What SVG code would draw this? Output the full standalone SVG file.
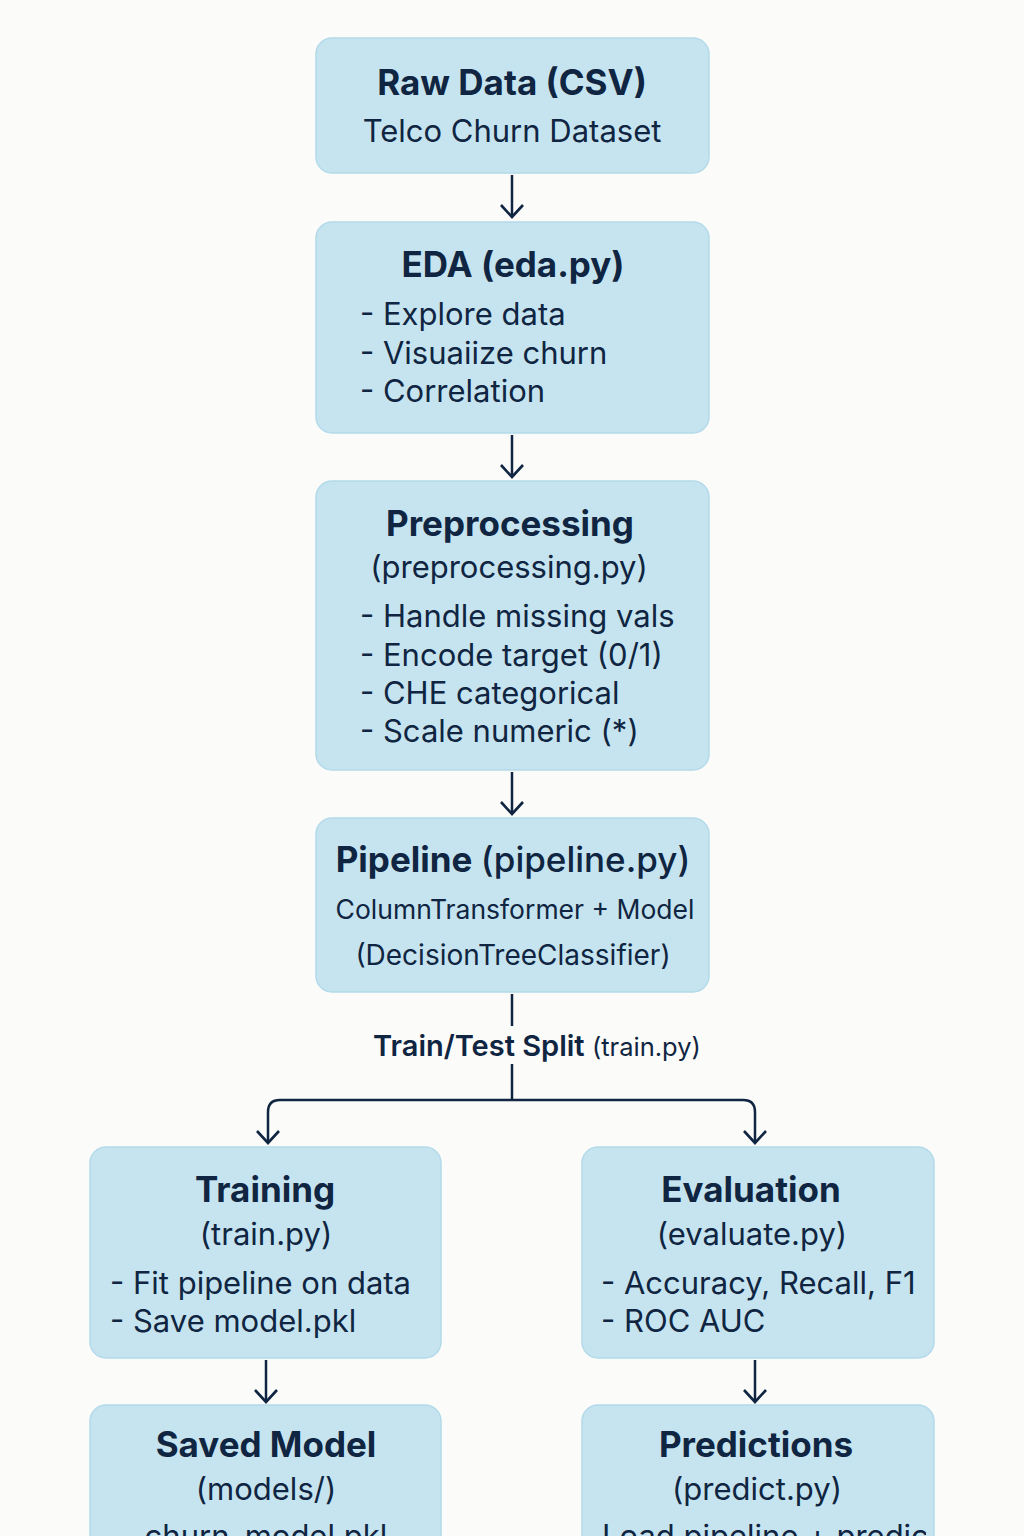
<svg xmlns="http://www.w3.org/2000/svg" width="1024" height="1536" viewBox="0 0 1024 1536">
<defs>
<style>
.box{fill:#c6e4ef;stroke:#b3daea;stroke-width:1.5}
text{font-family:Inter,"Open Sans","Liberation Sans",sans-serif;fill:#0f2541}
.t{font-size:35px;font-weight:700;text-anchor:middle}
.s{font-size:31px;text-anchor:middle}
.b{font-size:31px}
.c{fill:none;stroke:#0f2541;stroke-width:2.5}
</style>
<marker id="ah" viewBox="0 0 24 24" refX="22" refY="12" markerWidth="24" markerHeight="24" markerUnits="userSpaceOnUse" orient="auto-start-reverse">
<path d="M10,1 L22,12 L10,23" fill="none" stroke="#0f2541" stroke-width="2.6"/>
</marker>
<clipPath id="cpL"><rect x="90" y="1405" width="351" height="140"/></clipPath>
<clipPath id="cpR"><rect x="582" y="1405" width="344" height="140"/></clipPath>
</defs>
<rect width="1024" height="1536" fill="#fbfbf9"/>
<g id="connectors">
<path class="c" d="M512,175 V217" marker-end="url(#ah)"/>
<path class="c" d="M512,435 V477" marker-end="url(#ah)"/>
<path class="c" d="M512,772 V814" marker-end="url(#ah)"/>
<path class="c" d="M512,994 V1026"/>
<path class="c" d="M512,1064 V1100"/>
<path class="c" d="M268,1143 V1112 Q268,1100 280,1100 H743 Q755,1100 755,1112 V1143" marker-end="url(#ah)" marker-start="url(#ah)"/>
<path class="c" d="M266,1360 V1402" marker-end="url(#ah)"/>
<path class="c" d="M755,1360 V1402" marker-end="url(#ah)"/>
<text x="373" y="1056" style="font-size:29px;font-weight:600">Train/Test Split <tspan style="font-size:25.5px;font-weight:400">(train.py)</tspan></text>
</g>
<g id="raw">
<rect class="box" x="316" y="38" width="393" height="135" rx="16"/>
<text class="t" x="512" y="95">Raw Data (CSV)</text>
<text class="s" x="512" y="142">Telco Churn Dataset</text>
</g>
<g id="eda">
<rect class="box" x="316" y="222" width="393" height="211" rx="16"/>
<text class="t" x="513" y="277">EDA (eda.py)</text>
<text class="b" x="360" y="325">- Explore data</text>
<text class="b" x="360" y="364">- Visuaiize churn</text>
<text class="b" x="360" y="402">- Correlation</text>
</g>
<g id="preprocessing">
<rect class="box" x="316" y="481" width="393" height="289" rx="16"/>
<text class="t" x="510" y="536">Preprocessing</text>
<text class="s" x="509" y="578">(preprocessing.py)</text>
<text class="b" x="360" y="627">- Handle missing vals</text>
<text class="b" x="360" y="666">- Encode target (0/1)</text>
<text class="b" x="360" y="704">- CHE categorical</text>
<text class="b" x="360" y="742">- Scale numeric (*)</text>
</g>
<g id="pipeline">
<rect class="box" x="316" y="818" width="393" height="174" rx="16"/>
<text class="t" x="513" y="872">Pipeline <tspan style="font-weight:500">(pipeline.py)</tspan></text>
<text class="s" x="515" y="919" style="font-size:26.5px">ColumnTransformer + Model</text>
<text class="s" x="513" y="965" style="font-size:28px">(DecisionTreeClassifier)</text>
</g>
<g id="training">
<rect class="box" x="90" y="1147" width="351" height="211" rx="16"/>
<text class="t" x="265" y="1202">Training</text>
<text class="s" x="266" y="1245">(train.py)</text>
<text class="b" x="110" y="1294">- Fit pipeline on data</text>
<text class="b" x="110" y="1332">- Save model.pkl</text>
</g>
<g id="evaluation">
<rect class="box" x="582" y="1147" width="352" height="211" rx="16"/>
<text class="t" x="751" y="1202">Evaluation</text>
<text class="s" x="752" y="1245">(evaluate.py)</text>
<text class="b" x="601" y="1294">- Accuracy, Recall, F1</text>
<text class="b" x="601" y="1332">- ROC AUC</text>
</g>
<g id="saved-model">
<rect class="box" x="90" y="1405" width="351" height="150" rx="16"/>
<text class="t" x="266" y="1457">Saved Model</text>
<text class="s" x="266" y="1500">(models/)</text>
<text class="s" x="266" y="1547" clip-path="url(#cpL)">churn_model.pkl</text>
</g>
<g id="predictions">
<rect class="box" x="582" y="1405" width="352" height="150" rx="16"/>
<text class="t" x="756" y="1457">Predictions</text>
<text class="s" x="757" y="1500">(predict.py)</text>
<text class="b" x="602" y="1547" clip-path="url(#cpR)">Load pipeline + predict</text>
</g>
</svg>
